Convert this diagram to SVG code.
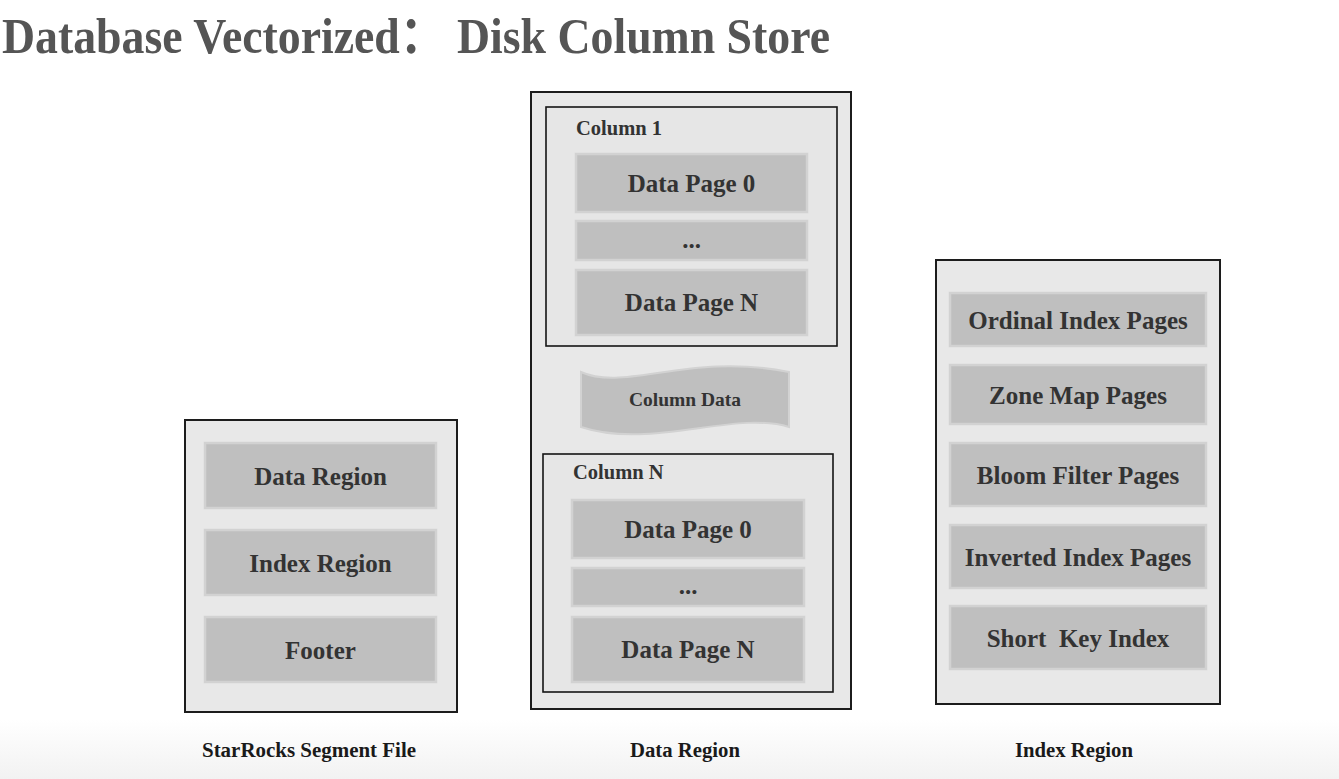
<svg xmlns="http://www.w3.org/2000/svg" width="1339" height="779" viewBox="0 0 1339 779">
<defs>
<linearGradient id="fade" x1="0" y1="0" x2="0" y2="1">
<stop offset="0" stop-color="#ffffff"/>
<stop offset="1" stop-color="#f2f2f2"/>
</linearGradient>
<style>
.outer{fill:#e8e8e8;stroke:#1c1c1c;stroke-width:2}
.col{fill:#e6e6e6;stroke:#151515;stroke-width:1.6}
.page{fill:#bfbfbf;stroke:#d2d2d2;stroke-width:2.5}
.t{font-family:"Liberation Serif","Times New Roman",serif;font-weight:bold;fill:#333333}
.pt{font-size:25px;text-anchor:middle}
.cl{font-size:20.5px}
.cap{font-family:"Liberation Serif","Times New Roman",serif;font-weight:bold;fill:#1a1a1a;font-size:20px}
</style>
</defs>
<rect x="0" y="0" width="1339" height="779" fill="#ffffff"/>
<rect x="0" y="720" width="1339" height="59" fill="url(#fade)"/>
<text x="2" y="53" font-family="'Liberation Serif','Noto Sans CJK SC',serif" font-weight="bold" font-size="51" fill="#555555" textLength="828" lengthAdjust="spacingAndGlyphs">Database Vectorized： Disk Column Store</text>

<g id="segment-file">
<rect class="outer" x="185" y="420" width="272" height="292"/>
<rect class="page" x="205" y="443" width="231" height="65"/>
<text class="t pt" x="320.5" y="485">Data Region</text>
<rect class="page" x="205" y="530" width="231" height="65"/>
<text class="t pt" x="320.5" y="572">Index Region</text>
<rect class="page" x="205" y="617" width="231" height="65"/>
<text class="t pt" x="320.5" y="659">Footer</text>
</g>

<g id="data-region">
<rect class="outer" x="531" y="92" width="320" height="617"/>
<g id="column-1">
<rect class="col" x="546" y="107" width="291" height="239"/>
<text class="t cl" x="576" y="135">Column 1</text>
<rect class="page" x="576" y="154" width="231" height="58"/>
<text class="t pt" x="691.5" y="192">Data Page 0</text>
<rect class="page" x="576" y="221" width="231" height="39"/>
<text class="t pt" x="691.5" y="248">...</text>
<rect class="page" x="576" y="270" width="231" height="65"/>
<text class="t pt" x="691.5" y="311">Data Page N</text>
</g>
<g id="column-data">
<path d="M581,372 C625,392 690,352 789,372 L789,427 C735,410 650,450 581,427 Z" fill="#bfbfbf" stroke="#d2d2d2" stroke-width="2"/>
<text class="t" x="685" y="406" font-size="19.5" text-anchor="middle">Column Data</text>
</g>
<g id="column-n">
<rect class="col" x="543" y="454" width="290" height="238"/>
<text class="t cl" x="573" y="479">Column N</text>
<rect class="page" x="572" y="500" width="232" height="58"/>
<text class="t pt" x="688" y="538">Data Page 0</text>
<rect class="page" x="572" y="568" width="232" height="38"/>
<text class="t pt" x="688" y="594">...</text>
<rect class="page" x="572" y="617" width="232" height="65"/>
<text class="t pt" x="688" y="658">Data Page N</text>
</g>
</g>

<g id="index-region">
<rect class="outer" x="936" y="260" width="284" height="444"/>
<rect class="page" x="950" y="293" width="256" height="53"/>
<text class="t pt" x="1078" y="329">Ordinal Index Pages</text>
<rect class="page" x="950" y="365" width="256" height="59"/>
<text class="t pt" x="1078" y="404">Zone Map Pages</text>
<rect class="page" x="950" y="443" width="256" height="63"/>
<text class="t pt" x="1078" y="484">Bloom Filter Pages</text>
<rect class="page" x="950" y="525" width="256" height="63"/>
<text class="t pt" x="1078" y="566">Inverted Index Pages</text>
<rect class="page" x="950" y="606" width="256" height="63"/>
<text class="t pt" x="1078" y="647" xml:space="preserve">Short  Key Index</text>
</g>

<g id="captions">
<text class="cap" x="202" y="757" textLength="214" lengthAdjust="spacingAndGlyphs">StarRocks Segment File</text>
<text class="cap" x="630" y="757" textLength="110" lengthAdjust="spacingAndGlyphs">Data Region</text>
<text class="cap" x="1015" y="757" textLength="118" lengthAdjust="spacingAndGlyphs">Index Region</text>
</g>
<g id="connectors"/>
</svg>
